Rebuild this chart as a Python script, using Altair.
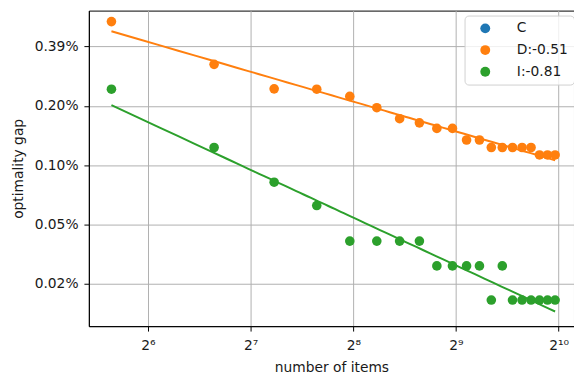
import altair as alt
import pandas as pd

# ---- data ----
n_items = [50, 100, 150, 200, 250, 300, 350, 400, 450, 500,
           550, 600, 650, 700, 750, 800, 850, 900, 950, 1000]
series_names = ["C", "D:-0.51", "I:-0.81"]
series_colors = ["#1f77b4", "#ff7f0e", "#2ca02c"]
gap_D = [0.00522, 0.00317, 0.00238, 0.00237, 0.00218, 0.00191, 0.00168, 0.00160,
         0.00150, 0.00150, 0.00131, 0.00131, 0.00120, 0.00120, 0.00120, 0.00120,
         0.00120, 0.00110, 0.00110, 0.00110]
gap_I = [0.00237, 0.00120, 0.000800, 0.000609, 0.000402, 0.000402, 0.000402, 0.000402,
         0.000301, 0.000301, 0.000301, 0.000301, 0.000202, 0.000301, 0.000202, 0.000202,
         0.000202, 0.000202, 0.000202, 0.000202]
x_tick_values = [64, 128, 256, 512, 1024]
x_tick_labels = ["2⁶", "2⁷", "2⁸", "2⁹", "2¹⁰"]
y_tick_values = [1 / 4096, 1 / 2048, 1 / 1024, 1 / 512, 1 / 256]
x_domain = [42.93, 1136]
y_domain = [0.0001489, 0.005936]

df = pd.DataFrame({
    "n": n_items + n_items,
    "gap": gap_D + gap_I,
    "series": [series_names[1]] * len(n_items) + [series_names[2]] * len(n_items),
})

label_expr = " : ".join(
    f"datum.value == {v} ? '{l}'" for v, l in zip(x_tick_values, x_tick_labels)
) + " : ''"

x_enc = alt.X(
    "n:Q",
    scale=alt.Scale(type="log", base=2, domain=x_domain, nice=False),
    axis=alt.Axis(values=x_tick_values, labelExpr=label_expr, title="number of items",
                  labelPadding=8, titlePadding=8),
)
y_enc = alt.Y(
    "gap:Q",
    scale=alt.Scale(type="log", base=2, domain=y_domain, nice=False),
    axis=alt.Axis(values=y_tick_values, format=".2%", title="optimality gap",
                  labelPadding=6, titlePadding=9),
)
color_scale = alt.Scale(domain=series_names, range=series_colors)

points = alt.Chart(df).mark_circle(size=95, opacity=1).encode(
    x=x_enc,
    y=y_enc,
    color=alt.Color(
        "series:N",
        scale=color_scale,
        legend=alt.Legend(
            title=None, orient="none", legendX=381, legendY=5,
            symbolType="circle", symbolSize=100, symbolStrokeWidth=0, symbolOpacity=1,
            symbolOffset=8, labelOffset=25, labelFontSize=14, rowPadding=8,
            columnPadding=0, padding=6, fillColor="rgba(255,255,255,0.8)",
            strokeColor="#d0d0d0", cornerRadius=4,
        ),
    ),
)

lines = alt.Chart(df).transform_regression(
    "n", "gap", method="pow", groupby=["series"]
).mark_line(strokeWidth=2).encode(
    x=x_enc,
    y=y_enc,
    color=alt.Color("series:N", scale=color_scale, legend=None),
)

chart = alt.layer(points, lines).properties(
    width=492,
    height=320,
    autosize=alt.AutoSizeParams(type="none"),
    padding={"left": 82, "top": 0, "right": 0, "bottom": 55},
).configure(
    font="DejaVu Sans",
).configure_view(
    stroke="black", strokeWidth=1,
).configure_axis(
    grid=True, gridColor="#b0b0b0", gridWidth=1,
    domainColor="black", domainWidth=1,
    tickColor="black", tickSize=5, tickWidth=1,
    labelFontSize=14, labelColor="#1a1a1a",
    titleFontSize=14, titleColor="#1a1a1a", titleFontWeight="normal",
).configure_legend(
    labelColor="#1a1a1a",
)

chart.save("out.html", embed_options={"renderer": "svg", "actions": False})
